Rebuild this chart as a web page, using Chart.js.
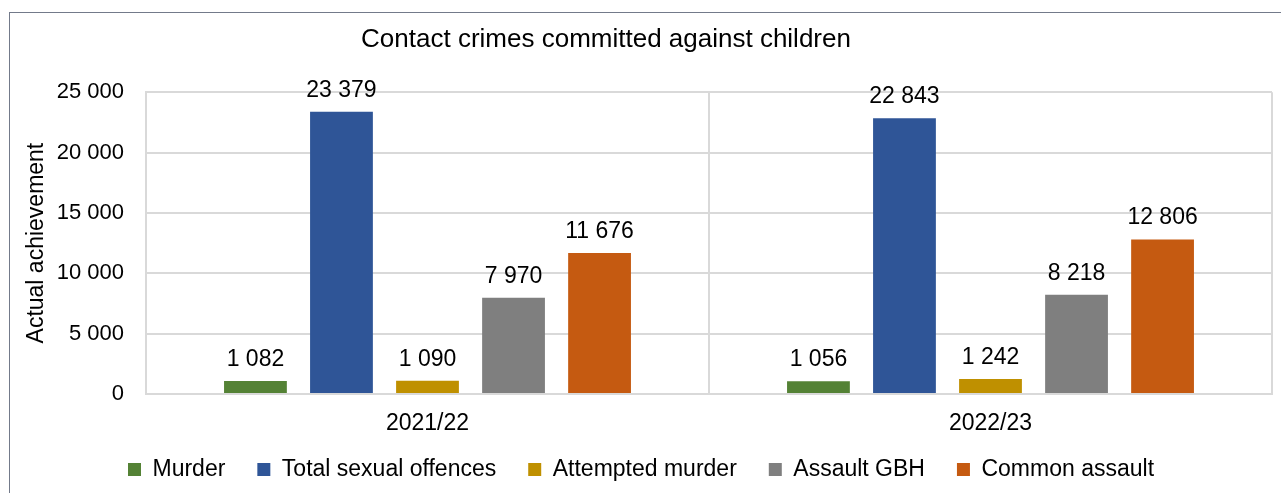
<!DOCTYPE html>
<html>
<head>
<meta charset="utf-8">
<title>Contact crimes committed against children</title>
<script src="https://cdn.jsdelivr.net/npm/chart.js@4.4.1/dist/chart.umd.min.js"></script>
<style>
  html, body { margin: 0; padding: 0; background: #fff; }
  #wrap { position: relative; width: 1281px; height: 493px; }
</style>
</head>
<body>
<div id="wrap"><canvas id="grafico" width="1281" height="493"></canvas></div>
<script>
// --- DATI ---
const anni = ['2021/22', '2022/23'];
const murder = [1082, 1056];
const totalSexualOffences = [23379, 22843];
const attemptedMurder = [1090, 1242];
const assaultGBH = [7970, 8218];
const commonAssault = [11676, 12806];
const yTicks = [0, 5000, 10000, 15000, 20000, 25000];

// numeri con lo spazio come separatore delle migliaia (23 379)
const fmt = v => String(v).replace(/\B(?=(\d{3})+(?!\d))/g, ' ');

const FONT = "'Liberation Sans', Arial, sans-serif";
Chart.defaults.font.family = FONT;
Chart.defaults.color = '#000';

const titleCenterX = 606; // il titolo nell'originale non e' centrato sul canvas

// cornice grigia esterna (solo lato sinistro e superiore sono visibili)
const bordoEsterno = {
  id: 'bordoEsterno',
  beforeDraw(chart) {
    const ctx = chart.ctx;
    ctx.save();
    ctx.fillStyle = '#fff';
    ctx.fillRect(0, 0, chart.width, chart.height);
    ctx.strokeStyle = '#737a8a';
    ctx.lineWidth = 1;
    ctx.strokeRect(9.5, 12.5, chart.width + 50, chart.height + 50);
    ctx.restore();
  }
};

// etichette con i valori sopra le barre
const etichette = {
  id: 'etichette',
  afterDatasetsDraw(chart) {
    const ctx = chart.ctx;
    ctx.save();
    ctx.font = '23px ' + FONT;
    ctx.fillStyle = '#000';
    ctx.textAlign = 'center';
    ctx.textBaseline = 'alphabetic';
    chart.data.datasets.forEach((ds, i) => {
      chart.getDatasetMeta(i).data.forEach((bar, j) => {
        ctx.fillText(fmt(ds.data[j]), bar.x, bar.y - 15);
      });
    });
    ctx.restore();
  }
};

// sposta il titolo un po' a sinistra e non taglia le etichette dell'asse x
const aggiustaLayout = {
  id: 'aggiustaLayout',
  afterLayout(chart) {
    const t = chart.titleBlock;
    t.left = 2 * titleCenterX - t.right;
    chart.scales.x.bottom = chart.legend.bottom;
  }
};

const griglia = { color: '#d9d9d9', lineWidth: 2, drawTicks: false };
const bordo = { color: '#d9d9d9', width: 2 };

new Chart(document.getElementById('grafico'), {
  type: 'bar',
  data: {
    labels: anni,
    datasets: [
      { label: 'Murder', data: murder, backgroundColor: '#548235' },
      { label: 'Total sexual offences', data: totalSexualOffences, backgroundColor: '#2f5597' },
      { label: 'Attempted murder', data: attemptedMurder, backgroundColor: '#bf9000' },
      { label: 'Assault GBH', data: assaultGBH, backgroundColor: '#7f7f7f' },
      { label: 'Common assault', data: commonAssault, backgroundColor: '#c55a11' }
    ]
  },
  options: {
    responsive: false,
    animation: false,
    layout: { padding: { left: 10, right: 9, top: 0, bottom: 2 } },
    datasets: { bar: { categoryPercentage: 0.764, barPercentage: 0.73 } },
    plugins: {
      title: {
        display: true,
        text: 'Contact crimes committed against children',
        color: '#000',
        font: { size: 26, weight: 'normal' },
        padding: { top: 24, bottom: 37 }
      },
      legend: {
        position: 'bottom',
        labels: {
          boxWidth: 13,
          boxHeight: 13,
          padding: 32,
          color: '#000',
          font: { size: 23 }
        }
      },
      tooltip: { enabled: false }
    },
    scales: {
      x: {
        grid: griglia,
        border: bordo,
        ticks: { font: { size: 23 }, padding: 16 },
        afterFit: s => { s.height = 32; }
      },
      y: {
        min: 0,
        max: 25000,
        grid: griglia,
        border: bordo,
        afterBuildTicks: s => { s.ticks = yTicks.map(v => ({ value: v })); },
        ticks: { font: { size: 22 }, padding: 22, callback: v => fmt(v) },
        title: {
          display: true,
          text: 'Actual achievement',
          color: '#000',
          font: { size: 23 },
          padding: { top: 13, bottom: 0 }
        },
        afterFit: s => { s.width = 136; }
      }
    }
  },
  plugins: [bordoEsterno, etichette, aggiustaLayout]
});
</script>
</body>
</html>
